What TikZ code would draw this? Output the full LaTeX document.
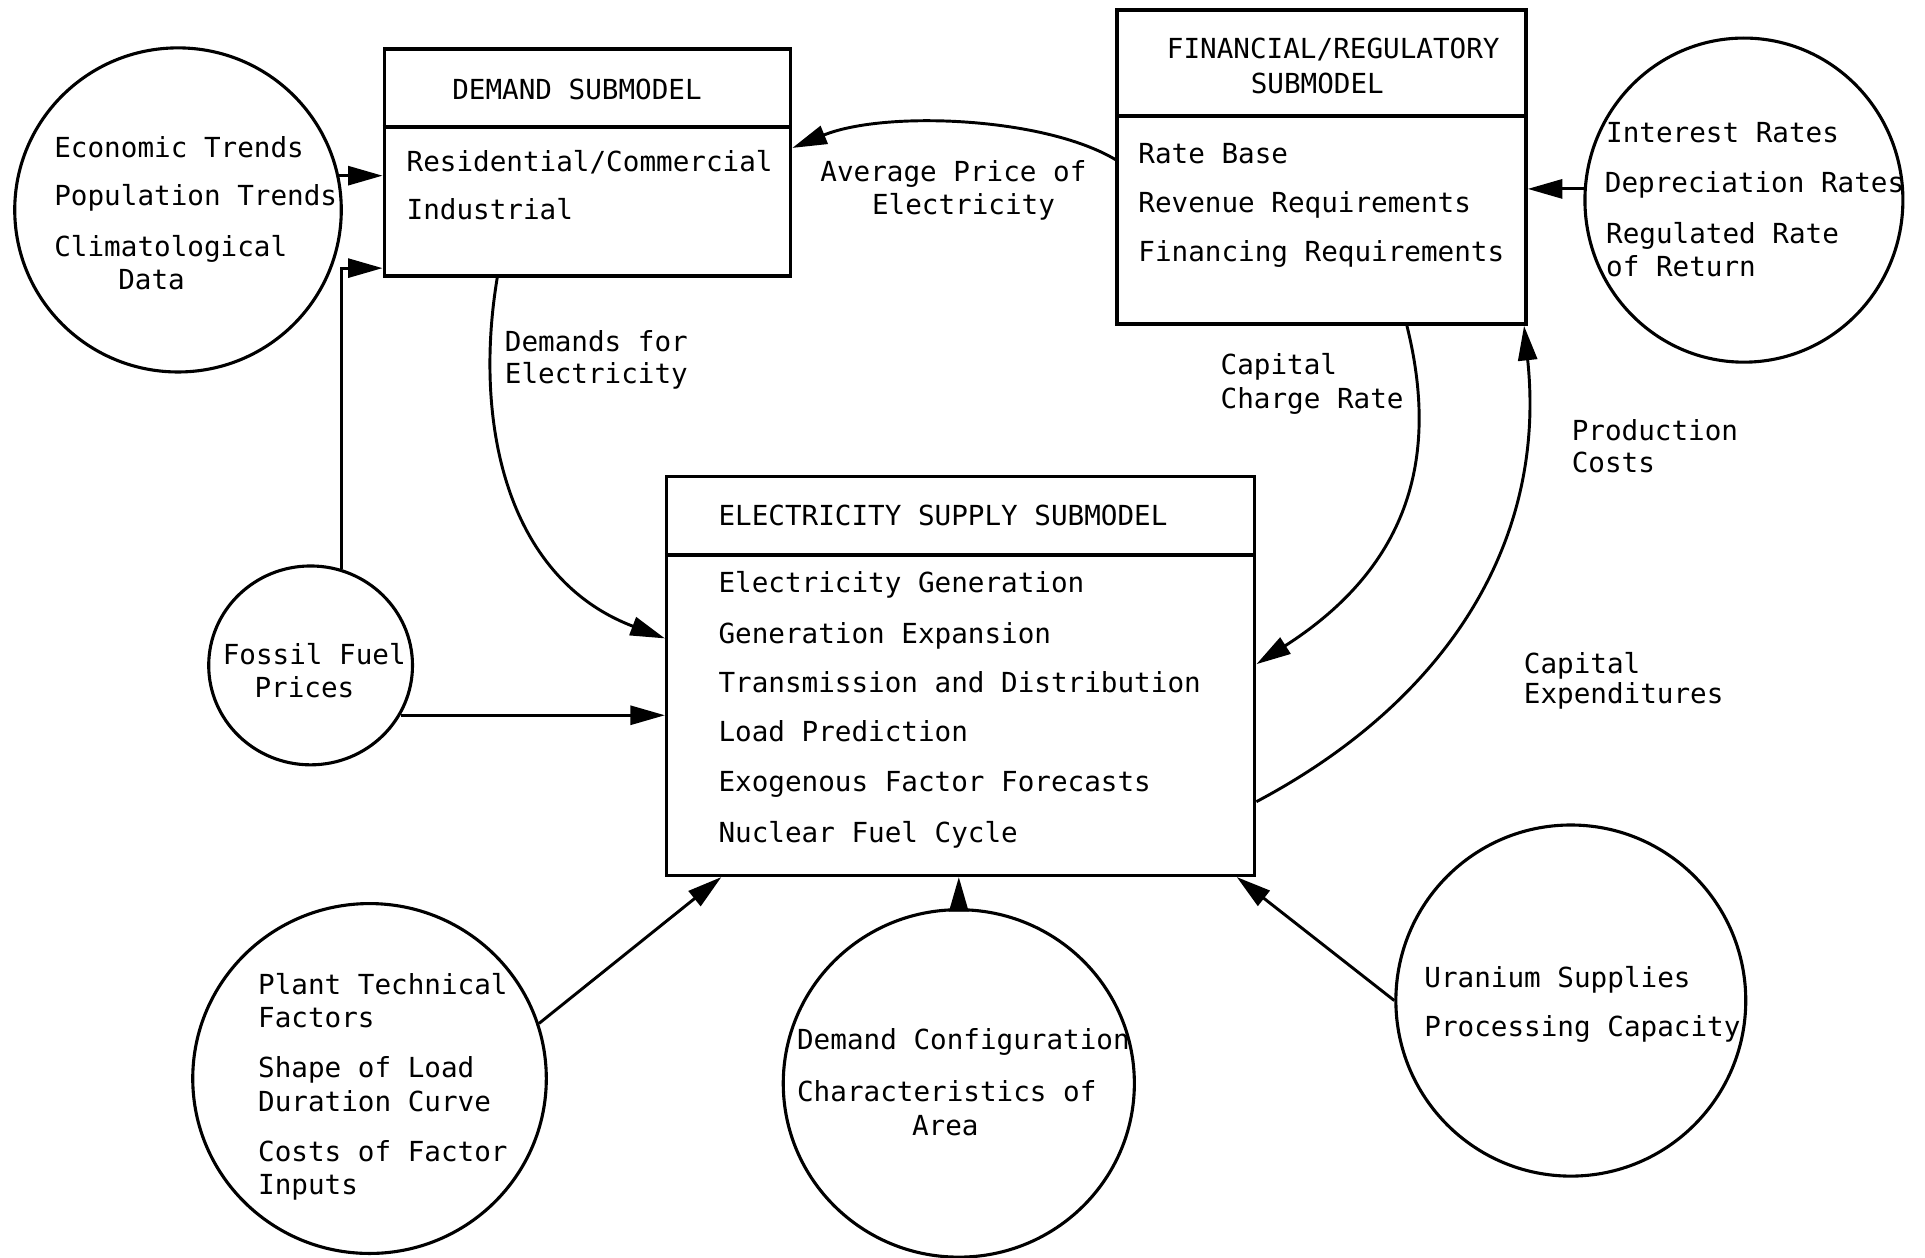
\documentclass[tikz,border=0pt]{standalone}
\usepackage{fontspec}
\setmonofont{DejaVu Sans Mono}
\usetikzlibrary{shapes.geometric,arrows.meta}
\newcommand\pxu{0.025cm}
\tikzset{
  lbl/.style={font=\ttfamily\fontsize{16}{19}\selectfont, inner sep=0pt, anchor=base west},
  clbl/.style={lbl, anchor=base},
  submodel/.style={draw, line width=2pt, rectangle, inner sep=0pt},
  divider/.style={line width=2pt},
  factor/.style={draw, line width=1.8pt, ellipse, inner sep=0pt},
  flow/.style={line width=1.7pt, -{Triangle[length=20pt,width=11pt]}},
}
\begin{document}
\begin{tikzpicture}[x=\pxu, y=-\pxu]
\useasboundingbox (0,0) rectangle (1568,1024);

% ---- submodel boxes ----
\node[submodel, minimum width=331*\pxu, minimum height=185*\pxu] (dem) at (478.5,132.5) {};
\draw[divider] ([yshift=-65*\pxu]dem.north west) -- ([yshift=-65*\pxu]dem.north east);
\node[clbl] (demT) at (470,81) {DEMAND SUBMODEL};
\node[lbl] (dem1) at (331,140) {Residential/Commercial};
\node[lbl] (dem2) at (331,179) {Industrial};

\node[submodel, minimum width=333*\pxu, minimum height=256*\pxu] (fin) at (1076.5,136) {};
\draw[divider] ([yshift=-88*\pxu]fin.north west) -- ([yshift=-88*\pxu]fin.north east);
\node[clbl] (finT1) at (1086,48) {FINANCIAL/REGULATORY};
\node[clbl] (finT2) at (1073,76) {SUBMODEL};
\node[lbl] (fin1) at (927,133) {Rate Base};
\node[lbl] (fin2) at (927,173) {Revenue Requirements};
\node[lbl] (fin3) at (927,213) {Financing Requirements};

\node[submodel, minimum width=479*\pxu, minimum height=325*\pxu] (sup) at (782.5,550.5) {};
\draw[divider] ([yshift=-65.5*\pxu]sup.north west) -- ([yshift=-65.5*\pxu]sup.north east);
\node[lbl] (supT) at (585,428) {ELECTRICITY SUPPLY SUBMODEL};
\node[lbl] (sup1) at (585,483) {Electricity Generation};
\node[lbl] (sup2) at (585,524) {Generation Expansion};
\node[lbl] (sup3) at (585,564) {Transmission and Distribution};
\node[lbl] (sup4) at (585,604) {Load Prediction};
\node[lbl] (sup5) at (585,645) {Exogenous Factor Forecasts};
\node[lbl] (sup6) at (585,686) {Nuclear Fuel Cycle};

% ---- external factors ----
\node[factor, minimum width=266*\pxu, minimum height=264*\pxu] (eco) at (145,171) {};
\node[lbl] (eco1) at (44,128.5) {Economic Trends};
\node[lbl] (eco2) at (44,167.5) {Population Trends};
\node[lbl] (eco3) at (44,209) {Climatological};
\node[clbl] (eco4) at (123.5,236) {Data};

\node[factor, minimum width=166*\pxu, minimum height=162*\pxu] (fos) at (253,542) {};
\node[clbl] (fos1) at (256,541.5) {Fossil Fuel};
\node[clbl] (fos2) at (248,568) {Prices};

\node[factor, minimum width=259*\pxu, minimum height=264*\pxu] (int) at (1420.5,163) {};
\node[lbl] (int1) at (1308,116) {Interest Rates};
\node[lbl] (int2) at (1307,157) {Depreciation Rates};
\node[lbl] (int3) at (1308,198) {Regulated Rate};
\node[lbl] (int4) at (1308,225) {of Return};

\node[factor, minimum width=288*\pxu, minimum height=285*\pxu] (plt) at (301,878.5) {};
\node[lbl] (plt1) at (210,810) {Plant Technical};
\node[lbl] (plt2) at (210,837) {Factors};
\node[lbl] (plt3) at (210,878) {Shape of Load};
\node[lbl] (plt4) at (210,905.5) {Duration Curve};
\node[lbl] (plt5) at (210,946) {Costs of Factor};
\node[lbl] (plt6) at (210,973) {Inputs};

\node[factor, minimum width=286*\pxu, minimum height=283*\pxu] (dcf) at (781,882.5) {};
\node[lbl] (dcf1) at (649,855) {Demand Configuration};
\node[lbl] (dcf2) at (649,897) {Characteristics of};
\node[clbl] (dcf3) at (770,925) {Area};

\node[factor, minimum width=285*\pxu, minimum height=286*\pxu] (ura) at (1279.5,815) {};
\node[lbl] (ura1) at (1160,804) {Uranium Supplies};
\node[lbl] (ura2) at (1160,844.5) {Processing Capacity};

% ---- flows ----
\draw[flow] (eco.12) -- (eco.12 -| dem.west);
\draw[flow] (fos.72) |- ([yshift=8*\pxu]dem.south west);
\draw[flow] (fos.-29) -- (fos.-29 -| sup.west);
\draw[flow] ([xshift=-73.5*\pxu]dem.south) .. controls (386,340) and (410,470) .. ([yshift=30.5*\pxu]sup.west);
\draw[flow] ([yshift=6*\pxu]fin.west) .. controls (850,95) and (720,90) .. ([yshift=12*\pxu]dem.east);
\draw[flow] ([xshift=69.5*\pxu]fin.south) .. controls (1172,370) and (1150,460) .. ([yshift=9.5*\pxu]sup.east);
\draw[flow] ([yshift=-102.5*\pxu]sup.east) .. controls (1180,570) and (1260,440) .. ([xshift=-3*\pxu]fin.south east);
\draw[flow] (int.176) -- (int.176 -| fin.east);
\draw[flow] (plt.18) -- ([xshift=46*\pxu]sup.south west);
\draw[flow] (dcf.north) -- (dcf.north |- sup.south);
\draw[flow] (ura.west) -- ([xshift=-16*\pxu]sup.south east);

% ---- flow labels ----
\node[lbl] (lDem1) at (411,286.5) {Demands for};
\node[lbl] (lDem2) at (411,312) {Electricity};
\node[lbl] (lAvg1) at (668,148) {Average Price of};
\node[lbl] (lAvg2) at (710,175) {Electricity};
\node[lbl] (lCcr1) at (994,305) {Capital};
\node[lbl] (lCcr2) at (994,333) {Charge Rate};
\node[lbl] (lPrd1) at (1280,359) {Production};
\node[lbl] (lPrd2) at (1280,385) {Costs};
\node[lbl] (lCap1) at (1241,549) {Capital};
\node[lbl] (lCap2) at (1241,573) {Expenditures};
\end{tikzpicture}
\end{document}
